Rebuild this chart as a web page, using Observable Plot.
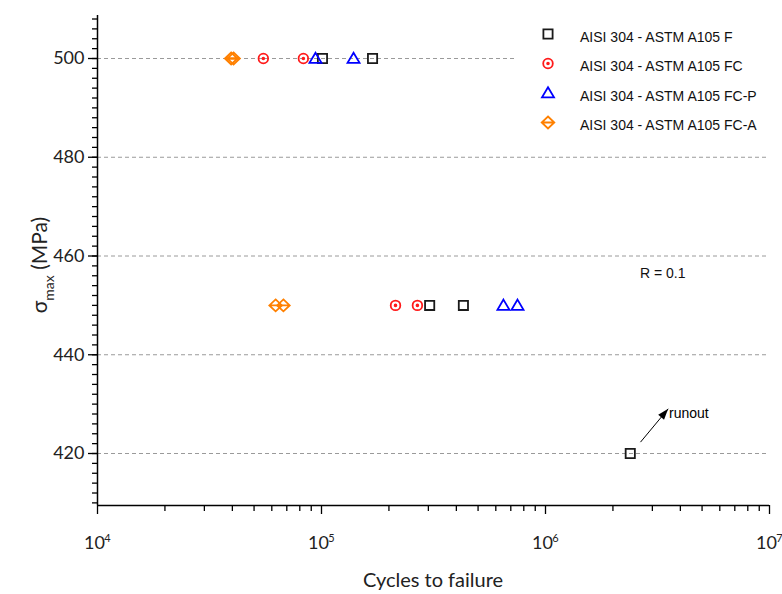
<!DOCTYPE html>
<html><head><meta charset="utf-8">
<script src="https://cdn.jsdelivr.net/npm/d3@7"></script>
<script src="https://cdn.jsdelivr.net/npm/@observablehq/plot@0.6"></script>
<style>
body{margin:0;background:#fff;}
#wrap{position:relative;width:782px;height:594px;overflow:hidden;}
#legend{position:absolute;left:0;top:0;}
</style></head><body><div id="wrap"></div>
<script>
// ---- data ----
const seriesNames = ["AISI 304 - ASTM A105 F", "AISI 304 - ASTM A105 FC", "AISI 304 - ASTM A105 FC-P", "AISI 304 - ASTM A105 FC-A"];
const seriesColors = ["#1a1a1a", "#ff1a1a", "#0000ff", "#ff8000"];
const F_cycles   = [101000, 169000, 304000, 430000, 2390000];
const F_stress   = [500, 500, 450, 450, 420];
const FC_cycles  = [55000, 83000, 214000, 268000];
const FC_stress  = [500, 500, 450, 450];
const FCP_cycles = [94000, 139000, 649000, 750000];
const FCP_stress = [500, 500, 450, 450];
const FCA_cycles = [39500, 40500, 62400, 67600];
const FCA_stress = [500, 500, 450, 450];
const xMajorTicks = [1e4, 1e5, 1e6, 1e7];
const xTickExponents = ["4", "5", "6", "7"];
const yTicks = [420, 440, 460, 480, 500];
const runoutArrow = [{x1: 2.655e6, y1: 422.3, x2: 3.53e6, y2: 429.05}];
const runoutLabel = [{x: 3.56e6, y: 428.1, text: "runout"}];

// ---- symbols ----
const k = s => Math.sqrt(s / Math.PI) / 5;
const symSquare = {draw(c, s){ const a = 4.6 * k(s); c.rect(-a, -a, 2*a, 2*a); }};
const symCircleDot = {draw(c, s){ const r = 4.8 * k(s), d = 0.9 * k(s);
  c.moveTo(r, 0); c.arc(0, 0, r, 0, 2*Math.PI); c.moveTo(d, 0); c.arc(0, 0, d, 0, 2*Math.PI); }};
const symTriangle = {draw(c, s){ const m = k(s);
  c.moveTo(0, -5.8*m); c.lineTo(6*m, 4.4*m); c.lineTo(-6*m, 4.4*m); c.closePath(); }};
const symDiamondBar = {draw(c, s){ const m = k(s);
  c.moveTo(0, -6*m); c.lineTo(6.3*m, 0); c.lineTo(0, 6*m); c.lineTo(-6.3*m, 0); c.closePath();
  c.moveTo(-6.3*m, 0); c.lineTo(6.3*m, 0); }};
const symHead = {draw(c, s){ const m = k(s);
  c.moveTo(0, 0); c.lineTo(3.8*m, 11*m); c.lineTo(-3.8*m, 11*m); c.closePath(); }};
const seriesSymbols = [symSquare, symCircleDot, symTriangle, symDiamondBar];

const seriesCycles = [F_cycles, FC_cycles, FCP_cycles, FCA_cycles];
const seriesStress = [F_stress, FC_stress, FCP_stress, FCA_stress];
const points = seriesCycles.flatMap((cs, i) => cs.map((c, j) => ({series: i, cycles: c, stress: seriesStress[i][j]})));

const xMinor = [];
for (const d of [1e4, 1e5, 1e6]) for (let m = 2; m <= 9; m++) xMinor.push(m * d);
const yMinor = d3.range(410, 509, 2);

const yDomain = [409.47, 508.71];
const tickFont = "Lato, 'Open Sans', sans-serif";
const arialFont = "'Liberation Sans', Arial, sans-serif";

const plot = Plot.plot({
  width: 782, height: 594,
  marginLeft: 97, marginRight: 13, marginTop: 15, marginBottom: 89,
  style: {fontFamily: tickFont, background: "#fff", overflow: "visible"},
  x: {type: "log", domain: [1e4, 1e7]},
  y: {domain: yDomain},
  marks: [
    Plot.ruleY(yTicks, {stroke: "#9a9a9a", strokeWidth: 1, strokeDasharray: "4,3"}),
    Plot.ruleX([1e4], {stroke: "#000", strokeWidth: 1.5}),
    Plot.ruleY([yDomain[0]], {stroke: "#000", strokeWidth: 1.5}),
    Plot.axisY({ticks: yTicks, tickSize: 9, tickPadding: 4, fontSize: 18, label: null, stroke: "#000", strokeWidth: 1.3, fill: "#222"}),
    Plot.axisY({ticks: yMinor, tickSize: 5, text: null, label: null, stroke: "#000", strokeWidth: 1.3}),
    Plot.axisX({ticks: xMajorTicks, tickSize: 9, text: null, label: null, stroke: "#000", strokeWidth: 1.3}),
    Plot.axisX({ticks: xMinor, tickSize: 6, text: null, label: null, stroke: "#000", strokeWidth: 1.3}),
    Plot.text(xMajorTicks, {x: d => d, frameAnchor: "bottom", text: () => "10", dy: 43, dx: -3, fontSize: 18, fill: "#222", fontFamily: tickFont}),
    Plot.text(xMajorTicks, {x: d => d, frameAnchor: "bottom", text: (d, i) => xTickExponents[i], dy: 36, dx: 10, fontSize: 11, fill: "#222", fontFamily: tickFont}),
    Plot.dot(points, {x: "cycles", y: "stress", r: 5, symbol: d => seriesSymbols[d.series], stroke: d => seriesColors[d.series], strokeWidth: 1.8, fill: "none"}),
    Plot.link(runoutArrow, {x1: "x1", y1: "y1", x2: "x2", y2: "y2", stroke: "#000", strokeWidth: 1}),
    Plot.dot(runoutArrow, {x: "x2", y: "y2", r: 5, symbol: () => symHead, fill: "#000", stroke: "none", rotate: 40}),
    Plot.text(runoutLabel, {x: "x", y: "y", text: "text", textAnchor: "start", fontSize: 14, fill: "#000", fontFamily: arialFont})
  ]
});
plot.style.position = "absolute";
plot.style.left = "0px";
plot.style.top = "0px";
const wrap = document.getElementById("wrap");
wrap.appendChild(plot);

// Overlay: legend, annotation, axis labels
const ov = d3.select(wrap).append("svg").attr("id", "legend").attr("width", 782).attr("height", 594);
const lg = ov.append("g").attr("font-family", arialFont).attr("font-size", 14).attr("text-anchor", "start");
lg.append("rect").attr("x", 516).attr("y", 16).attr("width", 252).attr("height", 122).attr("fill", "#ffffff");
seriesNames.forEach((name, i) => {
  const cy = 37 + i * 29.5;
  lg.append("path").attr("transform", `translate(548,${cy - 3})`)
    .attr("d", d3.symbol(seriesSymbols[i], 25 * Math.PI)())
    .attr("fill", "none").attr("stroke", seriesColors[i]).attr("stroke-width", 1.8);
  lg.append("text").attr("x", 580).attr("y", cy).attr("dy", "0.35em").attr("fill", "#111").text(name);
});
ov.append("text").attr("x", 640).attr("y", 273).attr("dy", "0.35em").attr("text-anchor", "start")
  .attr("font-family", arialFont).attr("font-size", 14).attr("fill", "#111").text("R = 0.1");
ov.append("text").attr("x", 433).attr("y", 580).attr("dy", "0.35em").attr("text-anchor", "middle")
  .attr("font-family", tickFont).attr("font-size", 20).attr("fill", "#222").text("Cycles to failure");
const yl = ov.append("text").attr("transform", "translate(40,265) rotate(-90)").attr("text-anchor", "middle").attr("dy", "0.35em")
  .attr("font-family", tickFont).attr("font-size", 21).attr("fill", "#222");
yl.append("tspan").text("σ");
yl.append("tspan").attr("font-size", 14).attr("dy", "0.45em").text("max");
yl.append("tspan").attr("dy", "-0.3em").text(" (MPa)");
</script></body></html>
